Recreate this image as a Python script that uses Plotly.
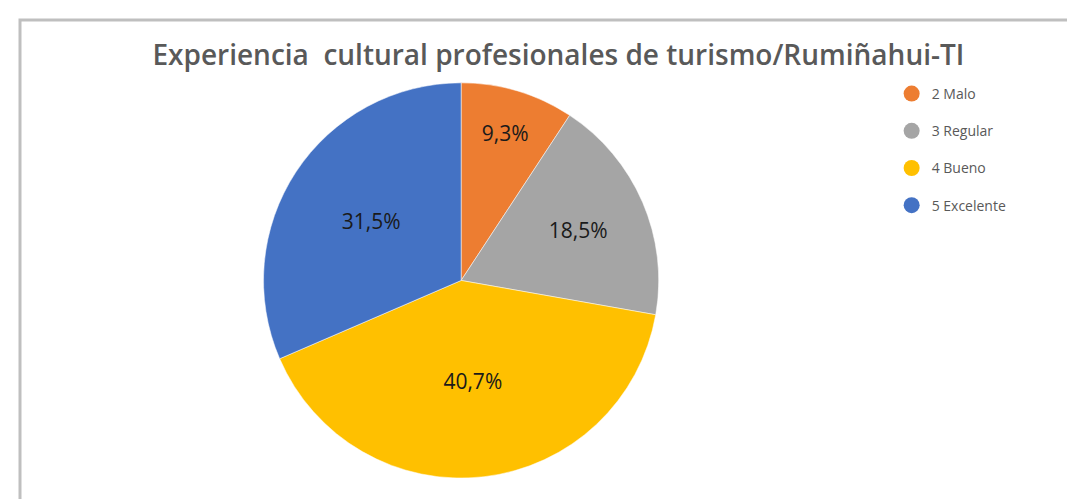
import plotly.graph_objects as go

categories = ["2 Malo", "3 Regular", "4 Bueno", "5 Excelente"]
counts = [5, 10, 22, 17]
colors = ["#ED7D31", "#A5A5A5", "#FFC000", "#4472C4"]
title_text = "Experiencia  cultural profesionales de turismo/Rumiñahui-TI"

fig = go.Figure()

fig.add_trace(go.Pie(
    labels=categories,
    values=counts,
    sort=False,
    direction="clockwise",
    rotation=0,
    marker=dict(colors=colors, line=dict(color="white", width=0.5)),
    texttemplate="%{percent:.1%}",
    textposition="inside",
    insidetextorientation="horizontal",
    textfont=dict(family="Open Sans, Lato, sans-serif", size=21, color="#1a1a1a"),
    domain=dict(x=[0.2, 0.643], y=[0.058, 0.85]),
    showlegend=False,
    hoverinfo="label+percent",
))

# legend entries with circular markers
for i, (cat, col) in enumerate(zip(categories, colors)):
    fig.add_trace(go.Scatter(
        x=[None], y=[None], mode="markers", name=cat,
        legendgroup=cat,
        marker=dict(symbol="circle", size=16, color=col),
    ))

fig.update_layout(
    width=1075, height=499,
    margin=dict(l=0, r=0, t=0, b=0),
    paper_bgcolor="white",
    plot_bgcolor="white",
    separators=",.",
    title=dict(
        text=title_text,
        x=0.512, xanchor="center",
        y=1 - 47 / 499, yanchor="middle", yref="container",
        font=dict(family="Open Sans, Lato, sans-serif", size=28, color="#595959", weight=600),
    ),
    xaxis=dict(visible=False),
    yaxis=dict(visible=False),
    legend=dict(
        x=0.822, y=1 - 70 / 499, xanchor="left", yanchor="top",
        font=dict(family="Open Sans, Lato, sans-serif", size=14, color="#595959"),
        tracegroupgap=16,
        bgcolor="rgba(0,0,0,0)",
    ),
    shapes=[dict(
        type="rect", xref="paper", yref="paper",
        x0=12 / 1075, x1=1.05, y0=-0.1, y1=1 - 12 / 499,
        line=dict(color="#BFBFBF", width=3),
        fillcolor="rgba(0,0,0,0)",
        layer="below",
    )],
)

fig.write_html("out.html")
